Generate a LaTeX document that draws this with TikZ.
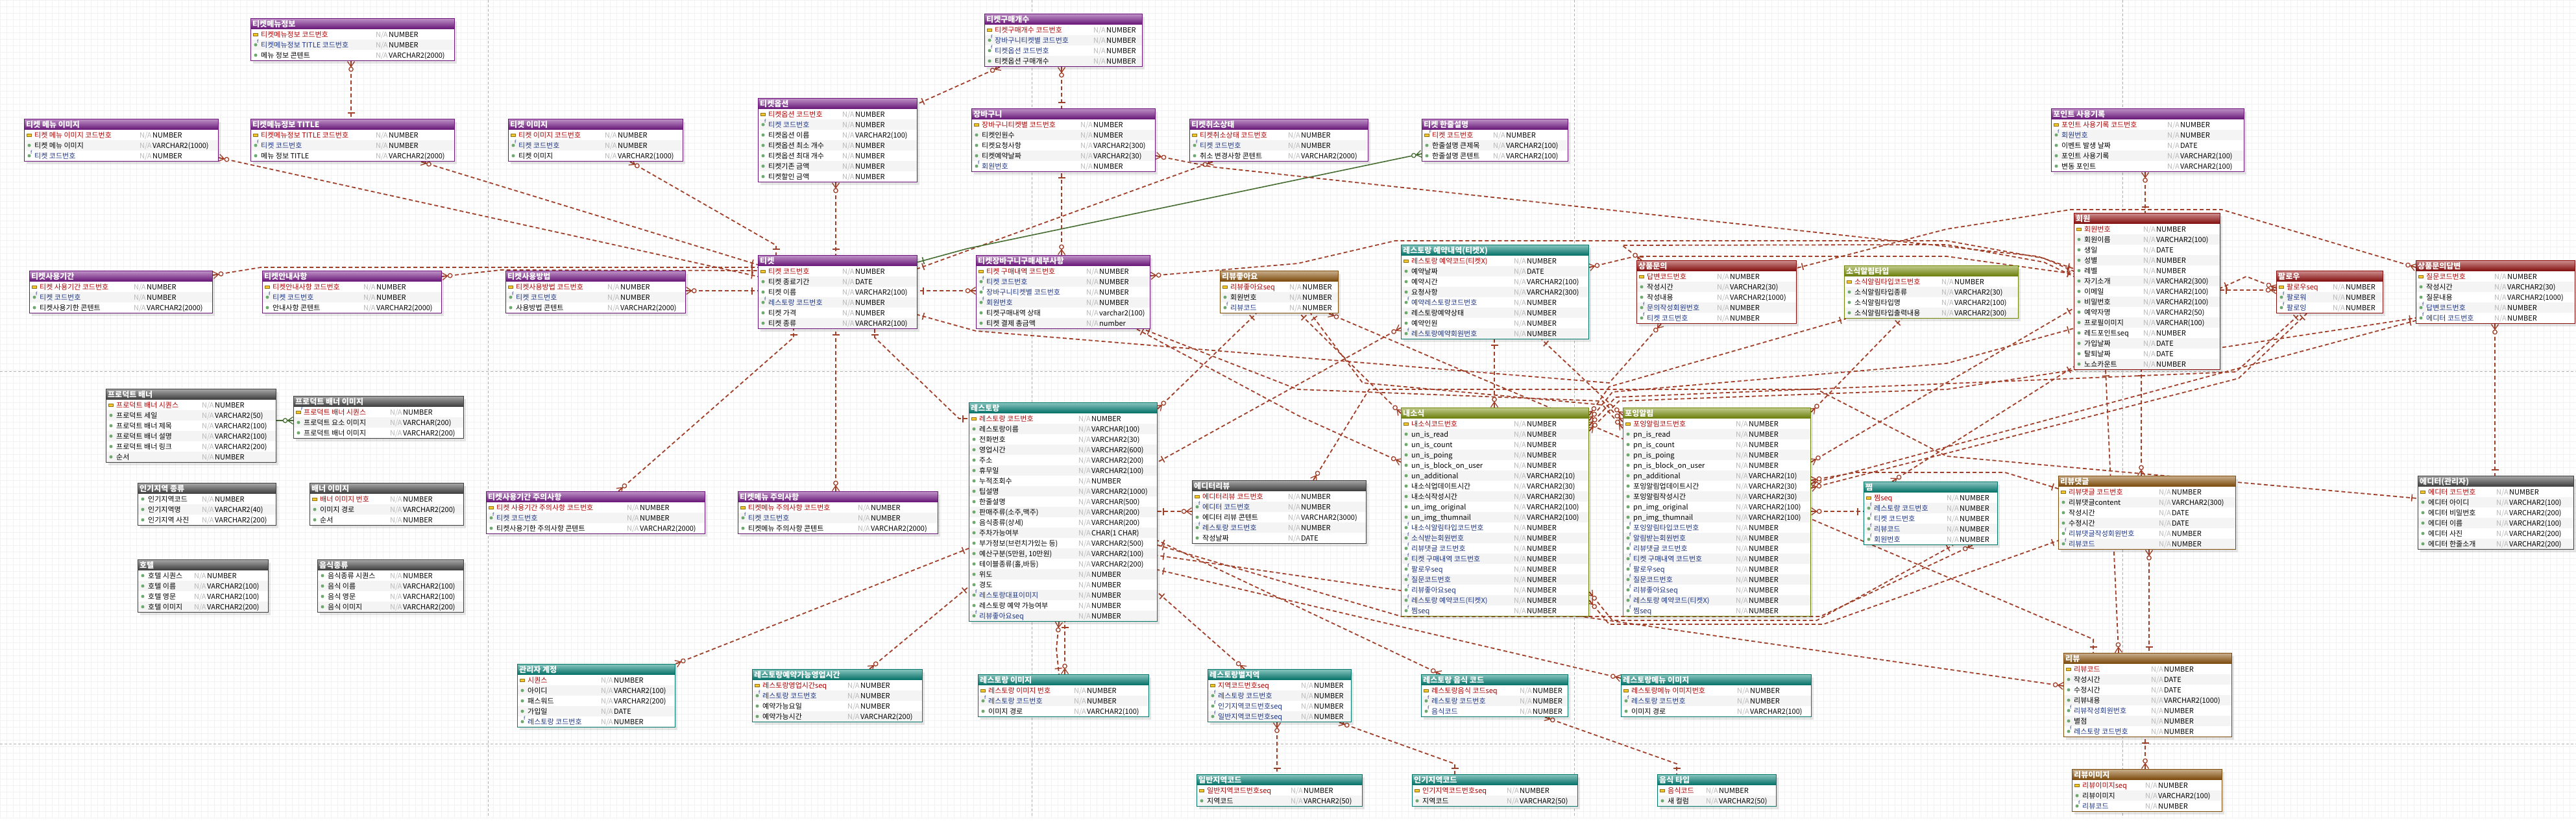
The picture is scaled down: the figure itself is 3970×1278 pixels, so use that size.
\documentclass[tikz,border=0pt]{standalone}
\usepackage{fontspec}
\setmainfont{Noto Sans CJK KR}
\usetikzlibrary{decorations.markings}

\definecolor{hdpurple}{RGB}{118,22,136}
\definecolor{hdteal}{RGB}{0,130,118}
\definecolor{hdgray}{RGB}{68,68,68}
\definecolor{hdolive}{RGB}{122,145,8}
\definecolor{hdbrown}{RGB}{140,82,8}
\definecolor{hdred}{RGB}{150,12,12}
\definecolor{pkred}{RGB}{170,0,0}
\definecolor{fkblue}{RGB}{28,52,130}
\definecolor{relbrown}{RGB}{160,62,40}
\definecolor{idgreen}{RGB}{68,108,48}
\definecolor{keyyellow}{RGB}{240,200,40}
\definecolor{keyedge}{RGB}{150,110,20}
\definecolor{dotgreen}{RGB}{110,170,110}
\definecolor{rowgray}{RGB}{244,244,244}
\definecolor{gridc}{RGB}{242,242,242}

\pgfdeclarelayer{grid}
\pgfdeclarelayer{links}
\pgfsetlayers{grid,links,main}

\newcommand{\rowfont}{\fontsize{11}{12}\selectfont}
\newcommand{\headfont}{\fontsize{12}{13}\selectfont\bfseries}

\tikzset{
  keyrow/.style={text=pkred},
  kfrow/.style={text=pkred},
  fkrow/.style={text=fkblue},
  colrow/.style={text=black},
  keyico/.style={rectangle, fill=keyyellow, draw=keyedge, line width=.4pt,
    minimum width=7pt, minimum height=4pt, inner sep=0pt},
  dotico/.style={circle, fill=dotgreen, minimum size=5pt, inner sep=0pt},
  rel/.style={relbrown, line width=1.8pt, dash pattern=on 6pt off 4pt},
  idrel/.style={idgreen, line width=1.6pt},
  barS/.style={postaction={decorate,decoration={markings,
      mark=at position 9pt with {\draw[solid,line width=1.6pt] (0pt,-5.5pt) -- (0pt,5.5pt);}}}},
  barE/.style={postaction={decorate,decoration={markings,
      mark=at position -9pt with {\draw[solid,line width=1.6pt] (0pt,-5.5pt) -- (0pt,5.5pt);}}}},
  crowS/.style={postaction={decorate,decoration={markings,
      mark=at position 0.5pt with {\draw[solid,line width=1.3pt] (0pt,-5.5pt) -- (8pt,0pt) -- (0pt,5.5pt) (0pt,0pt) -- (8pt,0pt);
        \draw[solid,line width=1.3pt,fill=white] (12pt,0pt) circle (3.2pt);}}}},
  crowE/.style={postaction={decorate,decoration={markings,
      mark=at position -0.5pt with {\draw[solid,line width=1.3pt] (0pt,-5.5pt) -- (-8pt,0pt) -- (0pt,5.5pt) (0pt,0pt) -- (-8pt,0pt);
        \draw[solid,line width=1.3pt,fill=white] (-12pt,0pt) circle (3.2pt);}}}},
}

% row icons
\newcommand{\icokeyrow}[1]{\node[keyico] at (#1) {};}
\newcommand{\icokfrow}[1]{\node[keyico, label={[text=fkblue,font=\fontsize{6}{6}\selectfont,inner sep=0pt]north east:F}] at (#1) {};}
\newcommand{\icofkrow}[1]{\node[dotico, label={[text=fkblue,font=\fontsize{7}{7}\selectfont,inner sep=0pt]north east:f}] at (#1) {};}
\newcommand{\icocolrow}[1]{\node[dotico] at (#1) {};}

% table: name, x, y, width, colour, title, N/A column, rows
\newcommand{\ertable}[8]{%
  \foreach \rowitem [count=\rowno] in {#8} {\xdef\nrows{\rowno}}%
  \pgfmathsetmacro\tabh{17+16*\nrows}%
  \fill[black,opacity=.10] (#2+4,#3+5) rectangle ++(#4,\tabh);
  \shade[top color=#5!45!white, middle color=#5, bottom color=#5!85!black] (#2,#3) rectangle ++(#4,17);
  \node[anchor=base west, text=white, font=\headfont, inner sep=0pt] at (#2+3,#3+13) {#6};
  \foreach \kind/\fname/\ftype [count=\i] in {#8} {
    \pgfmathsetmacro\ry{#3+1+16*\i}
    \ifodd\i\def\rowbg{white}\else\def\rowbg{rowgray}\fi
    \fill[\rowbg] (#2,\ry) rectangle ++(#4,16);
    \csname ico\kind\endcsname{#2+8,\ry+8}
    \node[\kind, anchor=base west, font=\rowfont, inner sep=0pt] at (#2+16,\ry+12) {\fname};
    \node[anchor=base west, text=black!28, font=\rowfont, inner sep=0pt] at (#2+#7,\ry+12) {N/A};
    \node[anchor=base west, font=\rowfont, inner sep=0pt] at (#2+#7+20,\ry+12) {\ftype};
  }
  \node[draw=#5!90!black, line width=1.2pt, inner sep=0pt, minimum width=#4pt,
    minimum height=\tabh pt, anchor=north west] (#1) at (#2,#3) {};
}

\begin{document}
\begin{tikzpicture}[x=1pt,y=-1pt]
\useasboundingbox (0,0) rectangle (3970,1278);

\begin{pgfonlayer}{grid}
\fill[white] (0,0) rectangle (3970,1278);
\draw[gridc, line width=.4pt, step=10pt] (0,0) grid (3970,1260);
% page breaks
\foreach \px in {752,1590,2426,3271}
  \draw[black!30, line width=.8pt, dash pattern=on 4pt off 3pt] (\px,0) -- (\px,1260);
\foreach \py in {572,1146}
  \draw[black!30, line width=.8pt, dash pattern=on 4pt off 3pt] (0,\py) -- (3970,\py);
\end{pgfonlayer}

% ticket tables
\ertable{tmi}{386}{28}{314}{hdpurple}{티켓메뉴정보}{193}{keyrow/티켓메뉴정보 코드번호/NUMBER, fkrow/티켓메뉴정보 TITLE 코드번호/NUMBER, colrow/메뉴 정보 콘텐트/VARCHAR2(2000)}
\ertable{tmimg}{37}{183}{299}{hdpurple}{티켓 메뉴 이미지}{178}{keyrow/티켓 메뉴 이미지 코드번호/NUMBER, colrow/티켓 메뉴 이미지/VARCHAR2(1000), fkrow/티켓 코드번호/NUMBER}
\ertable{tmt}{386}{183}{314}{hdpurple}{티켓메뉴정보 TITLE}{193}{keyrow/티켓메뉴정보 TITLE 코드번호/NUMBER, fkrow/티켓 코드번호/NUMBER, colrow/메뉴 정보 TITLE/VARCHAR2(2000)}
\ertable{timg}{783}{183}{269}{hdpurple}{티켓 이미지}{149}{keyrow/티켓 이미지 코드번호/NUMBER, fkrow/티켓 코드번호/NUMBER, colrow/티켓 이미지/VARCHAR2(1000)}
\ertable{tbuy}{1517}{21}{243}{hdpurple}{티켓구매개수}{168}{keyrow/티켓구매개수 코드번호/NUMBER, fkrow/장바구니티켓별 코드번호/NUMBER, fkrow/티켓옵션 코드번호/NUMBER, colrow/티켓옵션 구매개수/NUMBER}
\ertable{topt}{1168}{151}{245}{hdpurple}{티켓옵션}{130}{keyrow/티켓옵션 코드번호/NUMBER, fkrow/티켓 코드번호/NUMBER, colrow/티켓옵션 이름/VARCHAR2(100), colrow/티켓옵션 최소 개수/NUMBER, colrow/티켓옵션 최대 개수/NUMBER, colrow/티켓기존 금액/NUMBER, colrow/티켓할인 금액/NUMBER}
\ertable{cart}{1497}{167}{283}{hdpurple}{장바구니}{168}{keyrow/장바구니티켓별 코드번호/NUMBER, colrow/티켓인원수/NUMBER, colrow/티켓요청사항/VARCHAR2(300), colrow/티켓예약날짜/VARCHAR2(30), fkrow/회원번호/NUMBER}
\ertable{tcancel}{1833}{183}{275}{hdpurple}{티켓취소상태}{152}{keyrow/티켓취소상태 코드번호/NUMBER, fkrow/티켓 코드번호/NUMBER, colrow/취소 변경사항 콘텐트/VARCHAR2(2000)}
\ertable{tline}{2191}{183}{225}{hdpurple}{티켓 한줄설명}{110}{kfrow/티켓 코드번호/NUMBER, colrow/한줄설명 큰제목/VARCHAR2(100), colrow/한줄설명 콘텐트/VARCHAR2(100)}
\ertable{tperiod}{45}{417}{282}{hdpurple}{티켓사용기간}{161}{keyrow/티켓 사용기간 코드번호/NUMBER, fkrow/티켓 코드번호/NUMBER, colrow/티켓사용기한 콘텐트/VARCHAR2(2000)}
\ertable{tinfo}{404}{417}{276}{hdpurple}{티켓안내사항}{156}{keyrow/티켓안내사항 코드번호/NUMBER, fkrow/티켓 코드번호/NUMBER, colrow/안내사항 콘텐트/VARCHAR2(2000)}
\ertable{tuse}{779}{417}{277}{hdpurple}{티켓사용방법}{157}{keyrow/티켓사용방법 코드번호/NUMBER, fkrow/티켓 코드번호/NUMBER, colrow/사용방법 콘텐트/VARCHAR2(2000)}
\ertable{tkt}{1168}{393}{245}{hdpurple}{티켓}{130}{keyrow/티켓 코드번호/NUMBER, colrow/티켓 종료기간/DATE, colrow/티켓 이름/VARCHAR2(100), fkrow/레스토랑 코드번호/NUMBER, colrow/티켓 가격/NUMBER, colrow/티켓 종류/VARCHAR2(100)}
\ertable{tdetail}{1504}{393}{268}{hdpurple}{티켓장바구니구매세부사항}{170}{keyrow/티켓 구매내역 코드번호/NUMBER, fkrow/티켓 코드번호/NUMBER, fkrow/장바구니티켓별 코드번호/NUMBER, fkrow/회원번호/NUMBER, colrow/티켓구매내역 상태/varchar2(100), colrow/티켓 결제 총금액/number}
\ertable{tpwarn}{749}{757}{337}{hdpurple}{티켓사용기간 주의사항}{217}{keyrow/티켓 사용기간 주의사항 코드번호/NUMBER, fkrow/티켓 코드번호/NUMBER, colrow/티켓사용기한 주의사항 콘텐트/VARCHAR2(2000)}
\ertable{tmwarn}{1137}{757}{308}{hdpurple}{티켓메뉴 주의사항}{185}{keyrow/티켓메뉴 주의사항 코드번호/NUMBER, fkrow/티켓 코드번호/NUMBER, colrow/티켓메뉴 주의사항 콘텐트/VARCHAR2(2000)}
\ertable{point}{3161}{167}{297}{hdpurple}{포인트 사용기록}{179}{keyrow/포인트 사용기록 코드번호/NUMBER, fkrow/회원번호/NUMBER, colrow/이벤트 발생 날짜/DATE, colrow/포인트 사용기록/VARCHAR2(100), colrow/변동 포인트/VARCHAR2(100)}

% member tables
\ertable{member}{3196}{328}{225}{hdred}{회원}{107}{keyrow/회원번호/NUMBER, colrow/회원이름/VARCHAR2(100), colrow/생일/DATE, colrow/성별/NUMBER, colrow/레벨/NUMBER, colrow/자기소개/VARCHAR2(300), colrow/이메일/VARCHAR2(100), colrow/비밀번호/VARCHAR2(100), colrow/예약자명/VARCHAR2(50), colrow/프로필이미지/VARCHAR(100), colrow/레드포인트seq/NUMBER, colrow/가입날짜/DATE, colrow/탈퇴날짜/DATE, colrow/노쇼카운트/NUMBER}
\ertable{follow}{3508}{417}{164}{hdred}{팔로우}{87}{keyrow/팔로우seq/NUMBER, fkrow/팔로워/NUMBER, fkrow/팔로잉/NUMBER}
\ertable{qans}{3723}{401}{245}{hdred}{상품문의답변}{121}{keyrow/질문코드번호/NUMBER, colrow/작성시간/VARCHAR2(30), colrow/질문내용/VARCHAR2(1000), fkrow/답변코드번호/NUMBER, fkrow/에디터 코드번호/NUMBER}
\ertable{qna}{2522}{401}{246}{hdred}{상품문의}{124}{keyrow/답변코드번호/NUMBER, colrow/작성시간/VARCHAR2(30), colrow/작성내용/VARCHAR2(1000), fkrow/문의작성회원번호/NUMBER, fkrow/티켓 코드번호/NUMBER}

% reviews
\ertable{rlike}{1880}{417}{182}{hdbrown}{리뷰좋아요}{107}{keyrow/리뷰좋아요seq/NUMBER, colrow/회원번호/NUMBER, fkrow/리뷰코드/NUMBER}
\ertable{rcomment}{3172}{733}{273}{hdbrown}{리뷰댓글}{155}{keyrow/리뷰댓글 코드번호/NUMBER, colrow/리뷰댓글content/VARCHAR2(300), colrow/작성시간/DATE, colrow/수정시간/DATE, fkrow/리뷰댓글작성회원번호/NUMBER, fkrow/리뷰코드/NUMBER}
\ertable{review}{3180}{1006}{259}{hdbrown}{리뷰}{135}{keyrow/리뷰코드/NUMBER, colrow/작성시간/DATE, colrow/수정시간/DATE, colrow/리뷰내용/VARCHAR2(1000), fkrow/리뷰작성회원번호/NUMBER, colrow/별점/NUMBER, fkrow/레스토랑 코드번호/NUMBER}
\ertable{rvimg}{3193}{1185}{231}{hdbrown}{리뷰이미지}{113}{keyrow/리뷰이미지seq/NUMBER, colrow/리뷰이미지/VARCHAR2(100), fkrow/리뷰코드/NUMBER}

% notices
\ertable{ntype}{2842}{409}{268}{hdolive}{소식알림타입}{150}{keyrow/소식알림타입코드번호/NUMBER, colrow/소식알림타입종류/VARCHAR2(30), colrow/소식알림타입명/VARCHAR2(100), colrow/소식알림타입출력내용/VARCHAR2(300)}
\ertable{mynews}{2159}{628}{289}{hdolive}{내소식}{174}{keyrow/내소식코드번호/NUMBER, colrow/un\_is\_read/NUMBER, colrow/un\_is\_count/NUMBER, colrow/un\_is\_poing/NUMBER, colrow/un\_is\_block\_on\_user/NUMBER, colrow/un\_additional/VARCHAR2(10), colrow/내소식업데이트시간/VARCHAR2(30), colrow/내소식작성시간/VARCHAR2(30), colrow/un\_img\_original/VARCHAR2(100), colrow/un\_img\_thumnail/VARCHAR2(100), fkrow/내소식알림타입코드번호/NUMBER, fkrow/소식받는회원번호/NUMBER, fkrow/리뷰댓글 코드번호/NUMBER, fkrow/티켓 구매내역 코드번호/NUMBER, fkrow/팔로우seq/NUMBER, fkrow/질문코드번호/NUMBER, fkrow/리뷰좋아요seq/NUMBER, fkrow/레스토랑 예약코드(티켓X)/NUMBER, fkrow/찜seq/NUMBER}
\ertable{pnews}{2501}{628}{289}{hdolive}{포잉알림}{174}{keyrow/포잉알림코드번호/NUMBER, colrow/pn\_is\_read/NUMBER, colrow/pn\_is\_count/NUMBER, colrow/pn\_is\_poing/NUMBER, colrow/pn\_is\_block\_on\_user/NUMBER, colrow/pn\_additional/VARCHAR2(10), colrow/포잉알림업데이트시간/VARCHAR2(30), colrow/포잉알림작성시간/VARCHAR2(30), colrow/pn\_img\_original/VARCHAR2(100), colrow/pn\_img\_thumnail/VARCHAR2(100), fkrow/포잉알림타입코드번호/NUMBER, fkrow/알림받는회원번호/NUMBER, fkrow/리뷰댓글 코드번호/NUMBER, fkrow/티켓 구매내역 코드번호/NUMBER, fkrow/팔로우seq/NUMBER, fkrow/질문코드번호/NUMBER, fkrow/리뷰좋아요seq/NUMBER, fkrow/레스토랑 예약코드(티켓X)/NUMBER, fkrow/찜seq/NUMBER}

% restaurant tables
\ertable{rresv}{2159}{377}{289}{hdteal}{레스토랑 예약내역(티켓X)}{174}{keyrow/레스토랑 예약코드(티켓X)/NUMBER, colrow/예약날짜/DATE, colrow/예약시간/VARCHAR2(100), colrow/요청사항/VARCHAR2(300), fkrow/예약레스토랑코드번호/NUMBER, colrow/레스토랑예약상태/NUMBER, colrow/예약인원/NUMBER, fkrow/레스토랑예약회원번호/NUMBER}
\ertable{rest}{1493}{620}{290}{hdteal}{레스토랑}{169}{keyrow/레스토랑 코드번호/NUMBER, colrow/레스토랑이름/VARCHAR(100), colrow/전화번호/VARCHAR2(30), colrow/영업시간/VARCHAR2(600), colrow/주소/VARCHAR2(200), colrow/휴무일/VARCHAR2(100), colrow/누적조회수/NUMBER, colrow/팁설명/VARCHAR2(1000), colrow/한줄설명/VARCHAR(500), colrow/{판매주류(소주,맥주)}/VARCHAR(200), colrow/음식종류(상세)/VARCHAR(200), colrow/주차가능여부/CHAR(1 CHAR), colrow/부가정보(브런치가있는 등)/VARCHAR2(500), colrow/{예산구분(5만원, 10만원)}/VARCHAR2(100), colrow/{테이블종류(홀,바등)}/VARCHAR2(200), colrow/위도/NUMBER, colrow/경도/NUMBER, fkrow/레스토랑대표이미지/NUMBER, colrow/레스토랑 예약 가능여부/NUMBER, fkrow/리뷰좋아요seq/NUMBER}
\ertable{dib}{2872}{742}{206}{hdteal}{찜}{128}{keyrow/찜seq/NUMBER, fkrow/레스토랑 코드번호/NUMBER, fkrow/티켓 코드번호/NUMBER, fkrow/리뷰코드/NUMBER, fkrow/회원번호/NUMBER}
\ertable{admin}{797}{1023}{243}{hdteal}{관리자 계정}{129}{keyrow/시퀀스/NUMBER, colrow/아이디/VARCHAR2(100), colrow/패스워드/VARCHAR2(200), colrow/가입일/DATE, fkrow/레스토랑 코드번호/NUMBER}
\ertable{rhours}{1159}{1031}{262}{hdteal}{레스토랑예약가능영업시간}{147}{keyrow/레스토랑영업시간seq/NUMBER, fkrow/레스토랑 코드번호/NUMBER, colrow/예약가능요일/NUMBER, colrow/예약가능시간/VARCHAR2(200)}
\ertable{rimg}{1507}{1039}{263}{hdteal}{레스토랑 이미지}{148}{keyrow/레스토랑 이미지 번호/NUMBER, fkrow/레스토랑 코드번호/NUMBER, colrow/이미지 경로/VARCHAR2(100)}
\ertable{rarea}{1861}{1031}{221}{hdteal}{레스토랑별지역}{144}{keyrow/지역코드번호seq/NUMBER, fkrow/레스토랑 코드번호/NUMBER, fkrow/인기지역코드번호seq/NUMBER, fkrow/일반지역코드번호seq/NUMBER}
\ertable{garea}{1844}{1193}{255}{hdteal}{일반지역코드}{145}{keyrow/일반지역코드번호seq/NUMBER, colrow/지역코드/VARCHAR2(50)}
\ertable{rfood}{2190}{1039}{226}{hdteal}{레스토랑 음식 코드}{152}{keyrow/레스토랑음식 코드seq/NUMBER, fkrow/레스토랑 코드번호/NUMBER, fkrow/음식코드/NUMBER}
\ertable{rmenu}{2498}{1039}{293}{hdteal}{레스토랑메뉴 이미지}{179}{keyrow/레스토랑메뉴 이미지번호/NUMBER, fkrow/레스토랑 코드번호/NUMBER, colrow/이미지 경로/VARCHAR2(100)}
\ertable{parea}{2176}{1193}{255}{hdteal}{인기지역코드}{146}{keyrow/인기지역코드번호seq/NUMBER, colrow/지역코드/VARCHAR2(50)}
\ertable{ftype}{2554}{1193}{183}{hdteal}{음식 타입}{75}{keyrow/음식코드/NUMBER, colrow/새 컬럼/VARCHAR2(50)}

% editor, banners, misc
\ertable{ereview}{1837}{740}{268}{hdgray}{에디터리뷰}{148}{keyrow/에디터리뷰 코드번호/NUMBER, fkrow/에디터 코드번호/NUMBER, colrow/에디터 리뷰 콘텐트/VARCHAR2(3000), fkrow/레스토랑 코드번호/NUMBER, colrow/작성날짜/DATE}
\ertable{editor}{3726}{733}{240}{hdgray}{에디터(관리자)}{121}{keyrow/에디터 코드번호/NUMBER, colrow/에디터 아이디/VARCHAR2(100), colrow/에디터 비밀번호/VARCHAR2(200), colrow/에디터 이름/VARCHAR2(100), colrow/에디터 사진/VARCHAR2(200), colrow/에디터 한줄소개/VARCHAR2(200)}
\ertable{pbanner}{163}{599}{262}{hdgray}{프로덕트 배너}{148}{keyrow/프로덕트 배너 시퀀스/NUMBER, colrow/프로덕트 세일/VARCHAR2(50), colrow/프로덕트 배너 제목/VARCHAR2(100), colrow/프로덕트 배너 설명/VARCHAR2(100), colrow/프로덕트 배너 링크/VARCHAR2(200), colrow/순서/NUMBER}
\ertable{pbimg}{452}{610}{262}{hdgray}{프로덕트 배너 이미지}{149}{kfrow/프로덕트 배너 시퀀스/NUMBER, colrow/프로덕트 요소 이미지/VARCHAR(200), colrow/프로덕트 배너 이미지/VARCHAR2(200)}
\ertable{hotarea}{212}{744}{213}{hdgray}{인기지역 종류}{99}{colrow/인기지역코드/NUMBER, colrow/인기지역명/VARCHAR2(40), colrow/인기지역 사진/VARCHAR2(200)}
\ertable{bimg}{477}{744}{237}{hdgray}{배너 이미지}{124}{keyrow/배너 이미지 번호/NUMBER, colrow/이미지 경로/VARCHAR2(200), colrow/순서/NUMBER}
\ertable{hotel}{212}{862}{201}{hdgray}{호텔}{87}{colrow/호텔 시퀀스/NUMBER, colrow/호텔 이름/VARCHAR2(100), colrow/호텔 영문/VARCHAR2(100), colrow/호텔 이미지/VARCHAR2(200)}
\ertable{foodkind}{489}{862}{225}{hdgray}{음식종류}{112}{colrow/음식종류 시퀀스/NUMBER, colrow/음식 이름/VARCHAR2(100), colrow/음식 영문/VARCHAR2(100), colrow/음식 이미지/VARCHAR2(200)}

\begin{pgfonlayer}{links}
% ticket relations
\draw[rel,crowS,barE] (tmi.south -| 541,0) -- (tmt.north -| 541,0);
\draw[rel,crowS,barE] (tmimg.east |- 0,243) -- (tkt.west |- 0,426);
\draw[rel,crowS,barE] (tmt.south -| 649,0) -- (tkt.west |- 0,408);
\draw[rel,crowS,barE] (timg.south -| 971,0) -- (1196,378) -- (tkt.north -| 1196,0);
\draw[rel,crowS,barE] (topt.south -| 1288,0) -- (tkt.north -| 1288,0);
\draw[rel,crowS,barE] (tbuy.south -| 1541,0) -- (topt.east |- 0,160);
\draw[rel,crowS,barE] (tbuy.south -| 1636,0) -- (cart.north -| 1636,0);
\draw[rel,crowS,barE] (tdetail.north -| 1636,0) -- (cart.south -| 1636,0);
\draw[rel,crowS,barE] (tcancel.south -| 1869,0) -- (tkt.east |- 0,414);
\draw[idrel,crowS,barE] (tline.west |- 0,237) -- (1491,383) -- (tkt.east |- 0,404);
\draw[rel,crowS,barE] (tperiod.east |- 0,424) -- (402,412) -- (tkt.west |- 0,412);
\draw[rel,crowS,barE] (tinfo.east |- 0,426) -- (772,416) -- (tkt.west |- 0,417);
\draw[rel,crowS,barE] (tuse.east |- 0,448) -- (tkt.west |- 0,448);
\draw[rel,crowS,barE] (tdetail.west |- 0,448) -- (tkt.east |- 0,448);
\draw[rel,crowS,barE] (tpwarn.north -| 953,0) -- (1223,520) -- (tkt.south -| 1223,0);
\draw[rel,crowS,barE] (tmwarn.north -| 1288,0) -- (tkt.south -| 1288,0);
\draw[rel,barS,barE] (tkt.south -| 1348,0) -- (1348,520) -- (1478,645) -- (rest.west |- 0,645);
\draw[rel,crowS,barE] (qna.south -| 2560,0) -- (2480,590) -- (1504,510) -- (tkt.east |- 0,485);
% member relations
\draw[rel,crowS,barE] (cart.east |- 0,240) -- (1867,257) -- (3140,395) -- (member.west |- 0,414);
\draw[rel,crowS,barE] (point.south -| 3306,0) -- (member.north -| 3306,0);
\draw[rel,crowS,barE] (tdetail.east |- 0,425) -- (2000,406) -- (2150,371) -- (3000,371) -- (3150,398) -- (member.west |- 0,418);
\draw[rel,crowS,barE] (rresv.east |- 0,412) -- (2520,395) -- (3000,395) -- (member.west |- 0,422);
\draw[rel,crowS,barE] (qna.north -| 2530,0) -- (2500,378) -- (3000,377) -- (3150,404) -- (member.west |- 0,426);
\draw[rel,crowS,barE] (qans.west |- 0,412) -- (3424,323) -- (3191,323) -- (3000,353) -- (qna.east |- 0,413);
\draw[rel,crowS,barE] (follow.west |- 0,447) -- (member.east |- 0,447);
\draw[rel,crowS,barE] (follow.west |- 0,444) -- (3462,426) -- (member.east |- 0,444);
\draw[rel,crowS,barE] (qans.south -| 3845,0) -- (editor.north -| 3845,0);
\draw[rel,crowS,barE] (ereview.north -| 2024,0) -- (2110,600) -- (2800,600) -- (3000,703) -- (editor.west |- 0,768);
\draw[rel,crowS,barE] (review.north -| 3265,0) -- (member.south -| 3245,0);
\draw[rel,crowS,barE] (rcomment.north -| 3300,0) -- (member.south -| 3300,0);
\draw[rel,crowS,barE] (rcomment.south -| 3312,0) -- (review.north -| 3312,0);
\draw[rel,crowS,barE] (rvimg.north -| 3306,0) -- (review.south -| 3306,0);
\draw[rel,crowS,barE] (rlike.south -| 2048,0) -- (3226,985) -- (review.north -| 3226,0);
\draw[rel,crowS,barE] (dib.north -| 2916,0) -- (member.west |- 0,565);
% restaurant relations
\draw[rel,crowE,barS] (rest.east |- 0,788) -- (ereview.west |- 0,788);
\draw[rel,crowS,barE] (admin.north east) -- (rest.west |- 0,845);
\draw[rel,crowS,barE] (rhours.north -| 1340,0) -- (rest.west |- 0,904);
\draw[rel,crowS,barE] (rimg.north -| 1641,0) -- (rest.south -| 1641,0);
\draw[rel,crowS,barE] (rest.south -| 1632,0) -- (1628,1000) -- (rimg.north -| 1632,0);
\draw[rel,crowS,barE] (rarea.north -| 1918,0) -- (rest.east |- 0,913);
\draw[rel,crowS,barE] (rarea.south -| 2064,0) -- (2242,1177) -- (parea.north -| 2242,0);
\draw[rel,crowS,barE] (rarea.south -| 1968,0) -- (garea.north -| 1968,0);
\draw[rel,crowS,barE] (rfood.south -| 2381,0) -- (2584,1177) -- (ftype.north -| 2584,0);
\draw[rel,crowS,barE] (rfood.north -| 2220,0) -- (rest.east |- 0,833);
\draw[rel,crowS,barE] (rmenu.west |- 0,1045) -- (rest.east |- 0,878);
\draw[rel,crowS,barE] (review.west |- 0,1057) -- (rest.east |- 0,856);
\draw[rel,crowS,barE] (rest.east |- 0,630) -- (rlike.south -| 1936,0);
\draw[rel,crowS,barE] (rresv.west |- 0,505) -- (rest.east |- 0,712);
\draw[rel,crowS,barE] (dib.south -| 3040,0) -- (2805,950) -- (2160,950) -- (rest.east |- 0,840);
\draw[rel,crowS,barE] (pnews.east |- 0,788) -- (dib.west |- 0,788);
% notice relations
\draw[rel,crowS,barE] (mynews.west |- 0,637) -- (rlike.south -| 2003,0);
\draw[rel,crowS,barE] (mynews.west |- 0,712) -- (2000,640) -- (tdetail.south -| 1752,0);
\draw[rel,crowS,barE] (mynews.north -| 2303,0) -- (rresv.south -| 2303,0);
\draw[rel,crowS,barE] (pnews.west |- 0,640) -- (2470,612) -- (rresv.south -| 2376,0);
\draw[rel,crowS,barE] (pnews.west |- 0,650) -- (2470,618) -- (2000,600) -- (tdetail.south -| 1762,0);
\draw[rel,crowS,barE] (pnews.west |- 0,660) -- (2470,624) -- (2100,590) -- (rlike.south -| 2020,0);
\draw[rel,crowS,barE] (mynews.east |- 0,640) -- (2480,596) -- (ntype.south -| 2845,0);
\draw[rel,crowS,barE] (pnews.east |- 0,635) -- (ntype.south -| 2931,0);
\draw[rel,crowS,barE] (mynews.east |- 0,648) -- (2485,604) -- (3000,560) -- (member.west |- 0,506);
\draw[rel,crowS,barE] (pnews.east |- 0,712) -- (member.west |- 0,475);
\draw[rel,crowS,barE] (mynews.east |- 0,656) -- (2490,612) -- (3446,573) -- (follow.south -| 3545,0);
\draw[rel,crowS,barE] (pnews.east |- 0,752) -- (3450,583) -- (follow.south -| 3555,0);
\draw[rel,crowS,barE] (mynews.east |- 0,664) -- (2495,618) -- (3000,600) -- (qans.west |- 0,490);
\draw[rel,crowS,barE] (pnews.east |- 0,745) -- (qans.west |- 0,494);
\draw[rel,crowS,barE] (pnews.east |- 0,740) -- (2860,728) -- (3090,728) -- (rcomment.west |- 0,753);
\draw[rel,crowS,barE] (mynews.east |- 0,925) -- (2480,962) -- (2810,962) -- (rcomment.west |- 0,833);
\draw[rel,crowS,barE] (mynews.east |- 0,912) -- (2485,956) -- (2800,956) -- (dib.south -| 3010,0);
% banner
\draw[idrel,crowE] (pbanner.east |- 0,648) -- (pbimg.west |- 0,648);
\end{pgfonlayer}
\end{tikzpicture}
\end{document}
